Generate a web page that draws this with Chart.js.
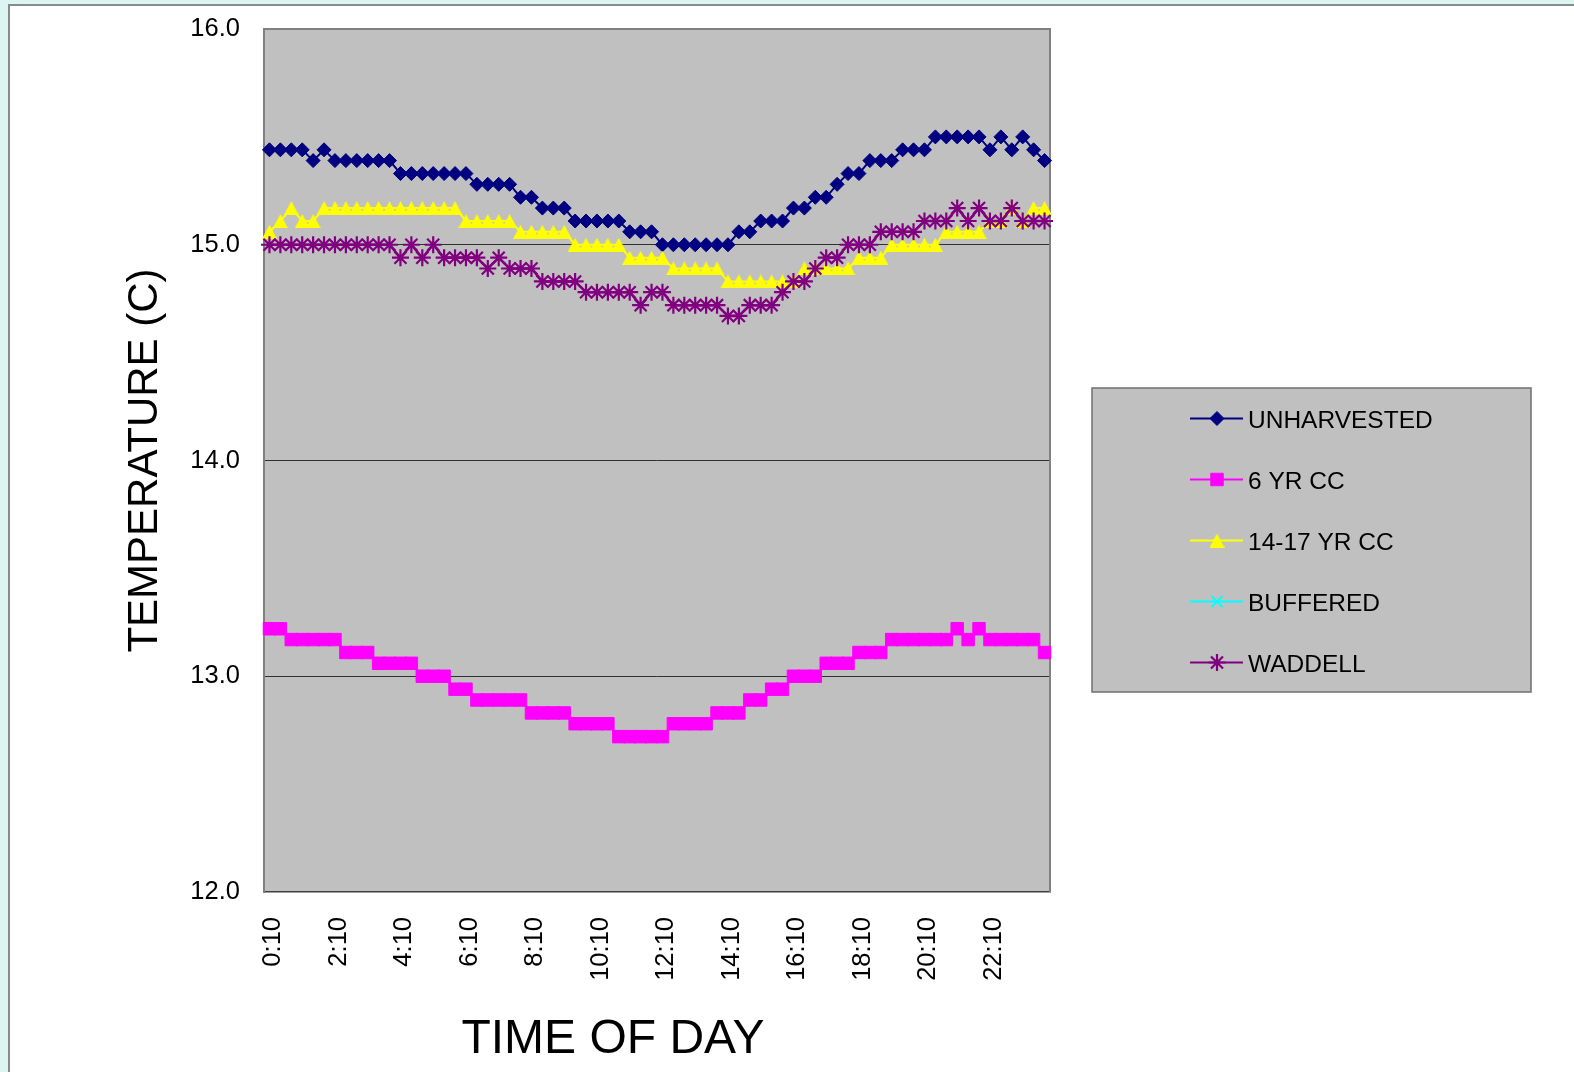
<!DOCTYPE html>
<html><head><meta charset="utf-8">
<script src="https://cdn.jsdelivr.net/npm/chart.js@4.4.1/dist/chart.umd.min.js"></script>
<style>html,body{margin:0;padding:0;background:#ddf5f1;} canvas{display:block;}</style>
</head><body>
<canvas id="c" width="1574" height="1072"></canvas>
<script>
const timeLabels = [
 '0:10','0:30','0:50','1:10','1:30','1:50','2:10','2:30','2:50','3:10','3:30','3:50',
 '4:10','4:30','4:50','5:10','5:30','5:50','6:10','6:30','6:50','7:10','7:30','7:50',
 '8:10','8:30','8:50','9:10','9:30','9:50','10:10','10:30','10:50','11:10','11:30','11:50',
 '12:10','12:30','12:50','13:10','13:30','13:50','14:10','14:30','14:50','15:10','15:30','15:50',
 '16:10','16:30','16:50','17:10','17:30','17:50','18:10','18:30','18:50','19:10','19:30','19:50',
 '20:10','20:30','20:50','21:10','21:30','21:50','22:10','22:30','22:50','23:10','23:30','23:50'
];
const shownTicks = ['0:10','2:10','4:10','6:10','8:10','10:10','12:10','14:10','16:10','18:10','20:10','22:10'];
const yTickValues = [12, 13, 14, 15, 16];

const unharvested = [
 15.44,15.44,15.44,15.44,15.39,15.44,15.39,15.39,15.39,15.39,15.39,15.39,
 15.33,15.33,15.33,15.33,15.33,15.33,15.33,15.28,15.28,15.28,15.28,15.22,
 15.22,15.17,15.17,15.17,15.11,15.11,15.11,15.11,15.11,15.06,15.06,15.06,
 15.00,15.00,15.00,15.00,15.00,15.00,15.00,15.06,15.06,15.11,15.11,15.11,
 15.17,15.17,15.22,15.22,15.28,15.33,15.33,15.39,15.39,15.39,15.44,15.44,
 15.44,15.50,15.50,15.50,15.50,15.50,15.44,15.50,15.44,15.50,15.44,15.39
];
const yr6cc = [
 13.22,13.22,13.17,13.17,13.17,13.17,13.17,13.11,13.11,13.11,13.06,13.06,
 13.06,13.06,13.00,13.00,13.00,12.94,12.94,12.89,12.89,12.89,12.89,12.89,
 12.83,12.83,12.83,12.83,12.78,12.78,12.78,12.78,12.72,12.72,12.72,12.72,
 12.72,12.78,12.78,12.78,12.78,12.83,12.83,12.83,12.89,12.89,12.94,12.94,
 13.00,13.00,13.00,13.06,13.06,13.06,13.11,13.11,13.11,13.17,13.17,13.17,
 13.17,13.17,13.17,13.22,13.17,13.22,13.17,13.17,13.17,13.17,13.17,13.11
];
const yr14cc = [
 15.06,15.11,15.17,15.11,15.11,15.17,15.17,15.17,15.17,15.17,15.17,15.17,
 15.17,15.17,15.17,15.17,15.17,15.17,15.11,15.11,15.11,15.11,15.11,15.06,
 15.06,15.06,15.06,15.06,15.00,15.00,15.00,15.00,15.00,14.94,14.94,14.94,
 14.94,14.89,14.89,14.89,14.89,14.89,14.83,14.83,14.83,14.83,14.83,14.83,
 14.83,14.89,14.89,14.89,14.89,14.89,14.94,14.94,14.94,15.00,15.00,15.00,
 15.00,15.00,15.06,15.06,15.06,15.06,15.11,15.11,15.17,15.11,15.17,15.17
];
const buffered = [];
const waddell = [
 15.00,15.00,15.00,15.00,15.00,15.00,15.00,15.00,15.00,15.00,15.00,15.00,
 14.94,15.00,14.94,15.00,14.94,14.94,14.94,14.94,14.89,14.94,14.89,14.89,
 14.89,14.83,14.83,14.83,14.83,14.78,14.78,14.78,14.78,14.78,14.72,14.78,
 14.78,14.72,14.72,14.72,14.72,14.72,14.67,14.67,14.72,14.72,14.72,14.78,
 14.83,14.83,14.89,14.94,14.94,15.00,15.00,15.00,15.06,15.06,15.06,15.06,
 15.11,15.11,15.11,15.17,15.11,15.17,15.11,15.11,15.17,15.11,15.11,15.11
];
const seriesNames = ['UNHARVESTED','6 YR CC','14-17 YR CC','BUFFERED','WADDELL'];

const FONT = "'Liberation Sans', Arial, sans-serif";

function makeTriangle(w, h, color) {
  const c = document.createElement('canvas');
  c.width = w; c.height = h;
  const g = c.getContext('2d');
  g.fillStyle = color;
  g.beginPath(); g.moveTo(w / 2, 0); g.lineTo(w, h); g.lineTo(0, h); g.closePath(); g.fill();
  return c;
}
const triImg = makeTriangle(15, 14, '#ffff00');

const datasets = [
  {label: seriesNames[0], data: unharvested, borderColor: '#000080', backgroundColor: '#000080',
   borderWidth: 2, pointStyle: 'rectRot', pointRadius: 7, pointBorderWidth: 1, order: 4},
  {label: seriesNames[1], data: yr6cc, borderColor: '#ff00ff', backgroundColor: '#ff00ff',
   borderWidth: 2, pointStyle: 'rect', pointRadius: 8.8, pointBorderWidth: 1, order: 3},
  {label: seriesNames[2], data: yr14cc, borderColor: '#ffff00', backgroundColor: '#ffff00',
   borderWidth: 2, pointStyle: triImg, pointRadius: 8, pointBorderWidth: 0, order: 2},
  {label: seriesNames[3], data: buffered, borderColor: '#00ffff', backgroundColor: '#00ffff',
   borderWidth: 2, pointStyle: 'crossRot', pointRadius: 8, pointBorderWidth: 2, order: 1},
  {label: seriesNames[4], data: waddell, borderColor: '#800080', backgroundColor: '#800080',
   borderWidth: 2.5, pointStyle: 'star', pointRadius: 8.5, pointBorderWidth: 2.2, order: 0}
];

const framePlugin = {
  id: 'frame',
  beforeDraw(chart) {
    const ctx = chart.ctx, a = chart.chartArea;
    ctx.save();
    ctx.fillStyle = '#ddf5f1';
    ctx.fillRect(0, 0, chart.width, chart.height);
    ctx.fillStyle = '#ffffff';
    ctx.fillRect(9, 5, chart.width - 9, chart.height - 5);
    ctx.fillStyle = '#8a8a8a';
    ctx.fillRect(8, 4, chart.width - 8, 2);
    ctx.fillRect(8, 4, 2, chart.height - 4);
    ctx.fillStyle = '#c0c0c0';
    ctx.fillRect(a.left, a.top, a.right - a.left, a.bottom - a.top);
    ctx.restore();
  },
  beforeDatasetsDraw(chart) {
    const ctx = chart.ctx, a = chart.chartArea;
    ctx.save();
    ctx.strokeStyle = '#808080';
    ctx.lineWidth = 2;
    ctx.beginPath();
    ctx.moveTo(a.left, a.top); ctx.lineTo(a.right, a.top); ctx.lineTo(a.right, a.bottom);
    ctx.stroke();
    ctx.restore();
  },
  afterDraw(chart) {
    const ctx = chart.ctx;
    ctx.save();
    ctx.fillStyle = '#000';
    ctx.font = '48px ' + FONT;
    ctx.textAlign = 'center';
    ctx.textBaseline = 'alphabetic';
    ctx.fillText('TIME OF DAY', 613, 1053);
    const bx = 1092, by = 388, bw = 439, bh = 304;
    ctx.fillStyle = '#c0c0c0';
    ctx.fillRect(bx, by, bw, bh);
    ctx.strokeStyle = '#707070';
    ctx.lineWidth = 1.5;
    ctx.strokeRect(bx, by, bw, bh);
    chart.data.datasets.forEach((ds, i) => {
      const y = 418.5 + 61 * i;
      ctx.strokeStyle = ds.borderColor;
      ctx.lineWidth = 2;
      ctx.beginPath(); ctx.moveTo(1190, y); ctx.lineTo(1243, y); ctx.stroke();
      ctx.fillStyle = ds.backgroundColor;
      ctx.strokeStyle = ds.borderColor;
      ctx.lineWidth = ds.pointBorderWidth;
      Chart.helpers.drawPoint(ctx, {pointStyle: ds.pointStyle, rotation: 0,
        radius: ds.pointRadius, borderWidth: ds.pointBorderWidth}, 1217, y);
      ctx.fillStyle = '#000';
      ctx.font = '24.5px ' + FONT;
      ctx.textAlign = 'left';
      ctx.textBaseline = 'alphabetic';
      ctx.fillText(ds.label, 1248, y + 9.2);
    });
    ctx.restore();
  }
};

new Chart(document.getElementById('c'), {
  type: 'line',
  data: {labels: timeLabels, datasets},
  options: {
    responsive: false,
    animation: false,
    devicePixelRatio: 1,
    layout: {padding: {left: 0, right: 524, top: 29, bottom: 0}},
    plugins: {legend: {display: false}, tooltip: {enabled: false}, title: {display: false}},
    elements: {line: {tension: 0}},
    scales: {
      x: {
        type: 'category',
        offset: true,
        grid: {display: false, drawTicks: false},
        border: {display: true, color: '#404040', width: 1.5},
        ticks: {
          autoSkip: false, minRotation: 90, maxRotation: 90, padding: 25, labelOffset: 4,
          color: '#000', font: {family: FONT, size: 25.5},
          callback(v, i) { const l = timeLabels[i]; return shownTicks.includes(l) ? l : ''; }
        },
        afterFit(s) { s.height = 180; s.paddingLeft = 0; s.paddingRight = 0; s.paddingTop = 0; s.paddingBottom = 0; }
      },
      y: {
        min: yTickValues[0], max: yTickValues[yTickValues.length - 1],
        afterBuildTicks(s) { s.ticks = yTickValues.map(v => ({value: v})); },
        grid: {drawTicks: false, lineWidth: 1,
          color: c => (c.tick && c.tick.value > 12 && c.tick.value < 16) ? '#303030' : 'rgba(0,0,0,0)'},
        border: {display: true, color: '#808080', width: 2},
        ticks: {padding: 24, color: '#000', font: {family: FONT, size: 25.5},
          callback: v => Number(v).toFixed(1)},
        title: {display: true, text: 'TEMPERATURE (C)', color: '#000',
          font: {family: FONT, size: 42, lineHeight: 1.2}, padding: {top: 120, bottom: 0}},
        afterFit(s) { s.width = 264; s.paddingTop = 0; s.paddingBottom = 0; }
      }
    }
  },
  plugins: [framePlugin]
});
</script>
</body></html>
